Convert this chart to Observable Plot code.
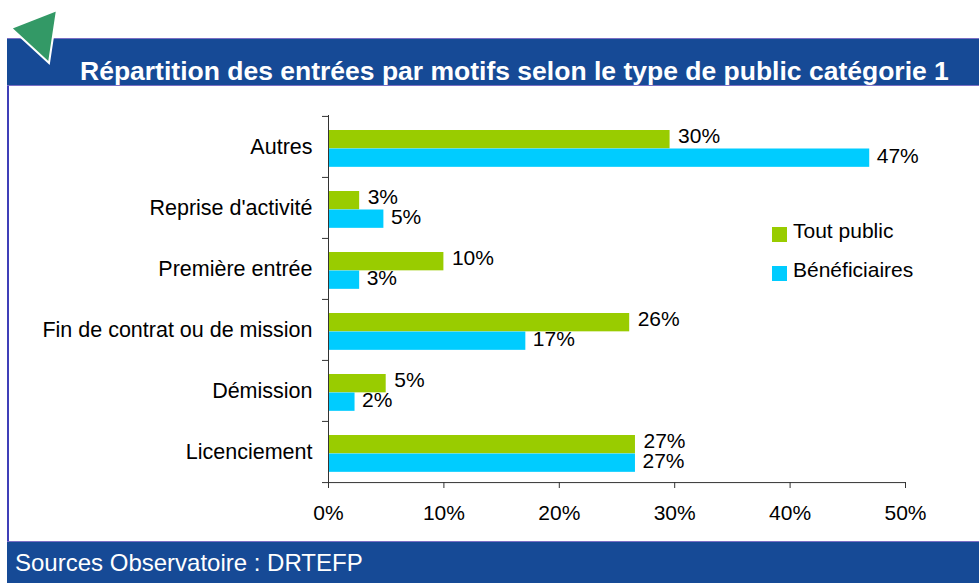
<!DOCTYPE html>
<html><head><meta charset="utf-8">
<script src="https://cdn.jsdelivr.net/npm/d3@7"></script>
<script src="https://cdn.jsdelivr.net/npm/@observablehq/plot@0.6"></script>
<style>
body{margin:0;background:#fff;}
#wrap{position:relative;width:979px;height:583px;overflow:hidden;font-family:"Liberation Sans",Arial,sans-serif;background:#fff;}
#chart{position:absolute;left:0;top:86px;}
#leftline{position:absolute;left:7px;top:86px;width:2px;height:456px;background:#3f3fb8;}
#titlebar{position:absolute;left:7px;top:38px;width:972px;height:48px;background:#164a96;border-top:1px solid #7a6fc4;border-bottom:1px solid #7a6fc4;box-sizing:border-box;}
#title{position:absolute;left:80px;top:58px;line-height:26px;font-size:26.5px;font-weight:bold;color:#fff;white-space:nowrap;}
#footbar{position:absolute;left:7px;top:541px;width:972px;height:42px;background:#164a96;border-top:1px solid #7a6fc4;box-sizing:border-box;}
#foot{position:absolute;left:15px;top:551px;line-height:24px;font-size:24px;color:#fff;white-space:nowrap;}
.leg{position:absolute;left:772px;font-size:21px;line-height:21px;color:#000;white-space:nowrap;}
.leg span.sw{position:absolute;left:0;top:7px;width:15px;height:15px;}
.leg span.tx{position:absolute;left:21px;top:0;}
#tri{position:absolute;left:0;top:0;}
</style>
</head><body>
<div id="wrap">
  <div id="titlebar"></div>
  <div id="title"></div>
  <div id="chart"></div>
  <div id="leftline"></div>
  <div id="footbar"></div>
  <div id="foot"></div>
  <div id="legend"></div>
  <svg id="tri" width="70" height="70"><polygon points="11,28 57,10 49,63" fill="#339966" stroke="#fff" stroke-width="2"/></svg>
</div>
<script>
const titleText = "Répartition des entrées par motifs selon le type de public catégorie 1";
const footText = "Sources Observatoire : DRTEFP";
const categories = ["Autres", "Reprise d'activité", "Première entrée", "Fin de contrat ou de mission", "Démission", "Licenciement"];
const toutPublic = [29.6, 2.7, 10.0, 26.1, 5.0, 26.6];
const beneficiaires = [46.9, 4.8, 2.7, 17.1, 2.3, 26.6];
const seriesNames = ["Tout public", "Bénéficiaires"];
const seriesColors = ["#99cc00", "#00ccff"];
const xTicks = [0, 10, 20, 30, 40, 50];

document.getElementById("title").textContent = titleText;
document.getElementById("foot").textContent = footText;

const legend = document.getElementById("legend");
seriesNames.forEach((name, i) => {
  const d = document.createElement("div");
  d.className = "leg";
  d.style.top = (220 + i * 39) + "px";
  d.innerHTML = `<span class="sw" style="background:${seriesColors[i]}"></span><span class="tx"></span>`;
  d.querySelector(".tx").textContent = name;
  legend.appendChild(d);
});

const rows = categories.map((c, i) => ({cat: c, tout: toutPublic[i], benef: beneficiaires[i]}));

const W = 979, H = 454, mt = 29, mb = 58, ml = 328, mr = 74;
const bw = (H - mt - mb) / categories.length;
const fs = 21;
const pct = v => Math.round(v) + "%";

const plot = Plot.plot({
  width: W, height: H,
  marginTop: mt, marginBottom: mb, marginLeft: ml, marginRight: mr,
  style: {fontFamily: '"Liberation Sans", Arial, sans-serif', fontSize: fs + "px", color: "#000", background: "transparent"},
  x: {domain: [0, 50]},
  y: {domain: categories, padding: 0},
  marks: [
    Plot.barX(rows, {y: "cat", x: "tout", fill: seriesColors[0], insetTop: 14, insetBottom: bw - 32.5}),
    Plot.barX(rows, {y: "cat", x: "benef", fill: seriesColors[1], insetTop: 32.5, insetBottom: bw - 51}),
    Plot.text(rows, {y: "cat", x: "tout", text: d => pct(d.tout), dx: 8, dy: -11, textAnchor: "start", fontSize: fs, fill: "#000"}),
    Plot.text(rows, {y: "cat", x: "benef", text: d => pct(d.benef), dx: 7, dy: 9, textAnchor: "start", fontSize: fs, fill: "#000"}),
    Plot.ruleX([0], {stroke: "#333"}),
    Plot.ruleY(rows, {y: "cat", dy: -bw / 2, x1: 0, x2: 0, insetLeft: -6, stroke: "#333"}),
    Plot.ruleY([categories[categories.length - 1]], {y: d => d, dy: bw / 2, insetLeft: -6, stroke: "#333"}),
    Plot.axisX(xTicks, {tickSize: 6, tickPadding: 17, tickFormat: d => d + "%", fontSize: fs, label: null, stroke: "#333", fill: "#000"}),
    Plot.axisY({tickSize: 0, tickPadding: 16, fontSize: 21.5, label: null, fill: "#000"})
  ]
});
document.getElementById("chart").appendChild(plot);
</script>
</body></html>
